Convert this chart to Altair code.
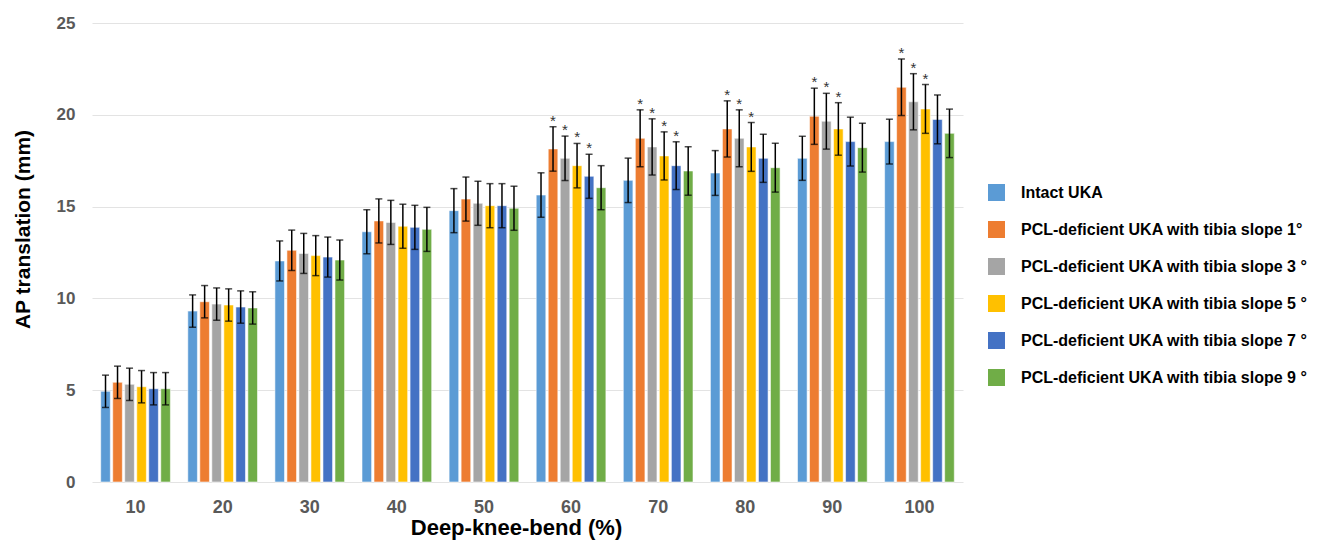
import altair as alt
import pandas as pd

categories = ["10", "20", "30", "40", "50", "60", "70", "80", "90", "100"]
series_names = [
    "Intact UKA",
    "PCL-deficient UKA with tibia slope 1°",
    "PCL-deficient UKA with tibia slope 3 °",
    "PCL-deficient UKA with tibia slope 5 °",
    "PCL-deficient UKA with tibia slope 7 °",
    "PCL-deficient UKA with tibia slope 9 °",
]
colors = ["#5B9BD5", "#ED7D31", "#A5A5A5", "#FFC000", "#4472C4", "#70AD47"]

intact = [4.94, 9.31, 12.04, 13.63, 14.78, 15.63, 16.43, 16.83, 17.63, 18.54]
slope1 = [5.43, 9.82, 12.62, 14.22, 15.41, 18.14, 18.72, 19.23, 19.92, 21.50]
slope3 = [5.32, 9.69, 12.45, 14.14, 15.18, 17.63, 18.25, 18.72, 19.65, 20.71]
slope5 = [5.19, 9.64, 12.33, 13.93, 15.05, 17.23, 17.76, 18.25, 19.23, 20.32]
slope7 = [5.08, 9.53, 12.25, 13.87, 15.05, 16.65, 17.23, 17.63, 18.54, 19.75]
slope9 = [5.08, 9.48, 12.09, 13.76, 14.91, 16.03, 16.94, 17.12, 18.21, 18.99]

err_intact = [0.88, 0.88, 1.09, 1.20, 1.20, 1.21, 1.21, 1.22, 1.20, 1.22]
err_slope1 = [0.88, 0.88, 1.10, 1.20, 1.20, 1.21, 1.55, 1.53, 1.53, 1.54]
err_slope3 = [0.88, 0.88, 1.09, 1.20, 1.20, 1.21, 1.53, 1.55, 1.52, 1.53]
err_slope5 = [0.88, 0.88, 1.09, 1.20, 1.20, 1.21, 1.31, 1.33, 1.43, 1.33]
err_slope7 = [0.88, 0.88, 1.09, 1.20, 1.20, 1.20, 1.30, 1.31, 1.33, 1.33]
err_slope9 = [0.88, 0.88, 1.09, 1.20, 1.20, 1.20, 1.32, 1.33, 1.33, 1.32]

sig_intact = [0, 0, 0, 0, 0, 0, 0, 0, 0, 0]
sig_slope1 = [0, 0, 0, 0, 0, 1, 1, 1, 1, 1]
sig_slope3 = [0, 0, 0, 0, 0, 1, 1, 1, 1, 1]
sig_slope5 = [0, 0, 0, 0, 0, 1, 1, 1, 1, 1]
sig_slope7 = [0, 0, 0, 0, 0, 1, 1, 0, 0, 0]
sig_slope9 = [0, 0, 0, 0, 0, 0, 0, 0, 0, 0]

values = [intact, slope1, slope3, slope5, slope7, slope9]
errors = [err_intact, err_slope1, err_slope3, err_slope5, err_slope7, err_slope9]
sigs = [sig_intact, sig_slope1, sig_slope3, sig_slope5, sig_slope7, sig_slope9]

rows = []
for s, vals, errs, sg in zip(series_names, values, errors, sigs):
    for c, v, e, g in zip(categories, vals, errs, sg):
        rows.append({"cat": c, "series": s, "value": v,
                     "lo": v - e, "hi": v + e, "sig": g})
df = pd.DataFrame(rows)

FONT = "Liberation Sans"

x_enc = alt.X(
    "cat:N", sort=categories,
    scale=alt.Scale(paddingInner=0.2, paddingOuter=0.1),
    axis=alt.Axis(
        title="Deep-knee-bend (%)", labelAngle=0, domain=False, ticks=False,
        labelFont=FONT, labelFontSize=18, labelFontWeight="bold",
        labelColor="#595959", labelPadding=16, labelBaseline="top",
        titleFont=FONT, titleFontSize=22, titleFontWeight="bold",
        titleColor="#000000", titleBaseline="alphabetic", titleY=52, titleX=424,
    ),
)
xoff = alt.XOffset("series:N", sort=series_names, scale=alt.Scale(paddingInner=0.2))

y_scale = alt.Scale(domain=[0, 25], nice=False)

bars = alt.Chart(df).mark_bar(stroke="white", strokeWidth=0.8, strokeOpacity=0.7).encode(
    x=x_enc,
    xOffset=xoff,
    y=alt.Y(
        "value:Q", scale=y_scale,
        axis=alt.Axis(
            title="AP translation (mm)", values=[0, 5, 10, 15, 20, 25],
            domain=False, ticks=False, grid=True, gridColor="#e3e3e3", gridWidth=1,
            labelFont=FONT, labelFontSize=17, labelFontWeight="bold",
            labelColor="#595959", labelPadding=17,
            titleFont=FONT, titleFontSize=21, titleFontWeight="bold",
            titleColor="#000000", titleBaseline="alphabetic", titleX=-63, titleY=206,
        ),
    ),
    color=alt.Color(
        "series:N", sort=series_names,
        scale=alt.Scale(domain=series_names, range=colors),
        legend=alt.Legend(
            title=None, orient="none", legendX=896, legendY=161,
            symbolType="square", symbolSize=289, symbolStrokeWidth=0,
            rowPadding=20, labelOffset=16, labelLimit=500,
            labelFont=FONT, labelFontSize=16, labelFontWeight="bold",
            labelColor="#000000",
        ),
    ),
)

rules = alt.Chart(df).mark_rule(color="#000000", strokeWidth=1.5).encode(
    x=alt.X("cat:N", sort=categories), xOffset=xoff,
    y=alt.Y("lo:Q", scale=y_scale), y2="hi:Q",
)
cap_hi = alt.Chart(df).mark_tick(color="#000000", size=7, thickness=1.5).encode(
    x=alt.X("cat:N", sort=categories), xOffset=xoff,
    y=alt.Y("hi:Q", scale=y_scale),
)
cap_lo = alt.Chart(df).mark_tick(color="#000000", size=7, thickness=1.5).encode(
    x=alt.X("cat:N", sort=categories), xOffset=xoff,
    y=alt.Y("lo:Q", scale=y_scale),
)
stars = alt.Chart(df).transform_filter("datum.sig == 1").mark_text(
    text="*", font=FONT, fontSize=15, color="#333333", baseline="alphabetic", dy=-1
).encode(
    x=alt.X("cat:N", sort=categories), xOffset=xoff,
    y=alt.Y("hi:Q", scale=y_scale),
)

chart = alt.layer(bars, rules, cap_hi, cap_lo, stars).properties(
    width=871, height=459,
    autosize=alt.AutoSizeParams(type="none"),
    padding={"left": 84, "top": 15, "right": 350, "bottom": 59},
).configure_view(stroke=None).configure_axis(labelOverlap=False)

chart.save("out.html", embed_options={"renderer": "svg", "actions": False})
